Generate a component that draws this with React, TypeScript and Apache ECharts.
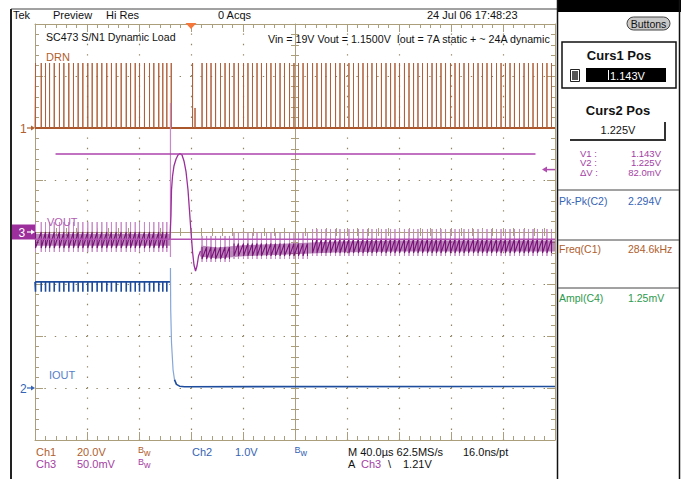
import React, { useEffect, useRef } from "react";
import * as echarts from "echarts";

// ---------- scales ----------
const timeMin = -120; // µs, M 40.0 µs/div, 10 div
const timeMax = 280;
const timeDiv = 40;
const ch1Range = [-120, 40]; // DRN, 20.0 V/div
const ch2Range = [-1, 7]; // IOUT, 1.0 V/div
const ch3Range = [0.95, 1.35]; // VOUT, 50.0 mV/div
const ch3Offset = 1.15;
const triggerTime = 0;
const triggerLevel = 1.21;
const gratDivX = [-4, -3, -2, -1, 1, 2, 3, 4];
const gratDivY = [-3, -2, -1, 1, 2, 3];

// ---------- DRN (Ch1) switching pulses ----------
const drnPulseTimes = [
  -119.6, -115.2, -111.9, -108.8, -105.2, -101.2, -97.8, -94.0, -90.4, -86.8,
  -83.2, -79.4, -76.0, -72.2, -68.6, -64.8, -61.2, -57.5, -53.7, -49.8,
  -46.5, -42.9, -39.6, -35.8, -31.9, -28.6, -24.8, -21.7, -18.6, -15.2,
  1.2,
  8.5, 12.0, 15.4, 18.9, 22.7, 26.2, 29.6, 33.1, 36.5, 40.4,
  43.8, 47.3, 50.8, 54.2, 58.1, 61.5, 65.0, 68.5, 71.9, 75.8,
  79.2, 82.7, 86.2, 89.6, 93.5, 96.9, 100.4, 103.8, 107.3, 111.2,
  114.6, 118.1, 121.5, 125.0, 128.8, 132.3, 135.8, 139.2, 142.7, 146.5,
  150.0, 153.5, 156.9, 160.4, 164.2, 167.7, 171.2, 174.6, 178.1, 181.9,
  185.4, 188.8, 192.3, 195.8, 199.6, 203.1, 206.5, 210.0, 213.5, 217.3,
  220.8, 224.2, 227.7, 231.2, 235.0, 238.5, 241.9, 245.4, 248.8, 252.7,
  256.2, 259.6, 263.1, 266.5, 270.4, 273.8, 277.3,
];
const drnPulseTop = 25; // V
const drnShortPulseTimes = [3.1];
const drnShortPulseTop = 7.7;
const drnBaseline = 0;

// ---------- VOUT (Ch3) ----------
const voutRegionStart = [-120, 7, 30, 90];
const voutRegionEnd = [-16, 30, 90, 280];
const voutSpikeHi = [1.1596, 1.1462, 1.1495, 1.1529];
const voutBandHi = [1.15, 1.1356, 1.139, 1.1433];
const voutBandMid = [1.1425, 1.1298, 1.1325, 1.1365];
const voutBandLo = [1.1346, 1.124, 1.127, 1.1298];
const voutSpikeLo = [1.1308, 1.1212, 1.124, 1.1269];
const voutEnvelopePre = [[-120, 1.1425], [-16.2, 1.1425]];
const voutEnvelopePost = [[7.3, 1.1317], [20, 1.1298], [40, 1.132], [70, 1.1335], [110, 1.1355], [160, 1.1365], [280, 1.1365]];
const voutTransient = [
  [-16.2, 1.1423], [-15.4, 1.1663], [-15.0, 1.1904], [-14.2, 1.2038], [-13.1, 1.2135],
  [-11.5, 1.2202], [-10.0, 1.224], [-8.5, 1.2255], [-6.9, 1.224], [-5.4, 1.2183],
  [-3.8, 1.2077], [-2.3, 1.1904], [-1.2, 1.1712], [0, 1.15], [1.2, 1.1308],
  [2.3, 1.1183], [3.5, 1.1125], [4.6, 1.1173], [5.8, 1.1269], [7.3, 1.1317],
];
const voutFastEdge = [[-15.8, 1.274], [-15.8, 1.126]];
const cursor1 = 1.143;
const cursor2 = 1.225;
const cursor2Span = [-104.2, 265];

// ---------- IOUT (Ch2) ----------
const ioutHigh = 2.04;
const ioutSpikeLo = 1.85;
const ioutEdge = [
  [-15.8, 2.04], [-15.8, 2.31], [-15.6, 1.5], [-15.0, 0.87], [-13.8, 0.35], [-12.7, 0.16],
];
const ioutTail = [[-12.7, 0.16], [-11.2, 0.07], [-8.8, 0.035], [-5.0, 0.025], [280, 0.03]];

// ---------- colours / fonts ----------
const TAN = "#aa9e7b";
const DOT = "#8f8462";
const BROWN = "#a44f1e";
const BROWN_P = "#b0603a";
const BROWN_T = "#b0602e";
const PURPLE = "#7a127a";
const PURPLE_L = "#c68ac6";
const PURPLE_T = "#a33ea3";
const BLUE = "#1e4c9c";
const BLUE_L = "#86a6d8";
const BLUE_T = "#3563b5";
const GREEN_T = "#2d9a4c";
const ORANGE = "#f5773a";
const FONT = "'Liberation Sans', Arial, sans-serif";

function gratX(extra: any) {
  return {
    type: "value", min: -5, max: 5, interval: 1, show: true,
    axisLabel: { show: false },
    axisLine: { show: true, onZero: false, lineStyle: { color: TAN, width: 1 } },
    axisTick: { show: true, inside: true, length: 8, lineStyle: { color: TAN } },
    minorTick: { show: true, splitNumber: 5, length: 4, lineStyle: { color: TAN } },
    splitLine: { show: false },
    ...extra,
  };
}
function gratY(extra: any) {
  return {
    type: "value", min: -4, max: 4, interval: 1, show: true,
    axisLabel: { show: false },
    axisLine: { show: true, onZero: false, lineStyle: { color: TAN, width: 1 } },
    axisTick: { show: true, inside: true, length: 8, lineStyle: { color: TAN } },
    minorTick: { show: true, splitNumber: 5, length: 4, lineStyle: { color: TAN } },
    splitLine: { show: false },
    ...extra,
  };
}

function line(name: string, data: any[], yAxisIndex: number, color: string, width: number, z = 2, opacity = 1) {
  return {
    name, type: "line", xAxisIndex: 4, yAxisIndex, data, symbol: "none", silent: true,
    z, lineStyle: { color, width, opacity }, animation: false,
  };
}

function buildOption() {
  const pulses = drnPulseTimes.map((t) => [t, drnPulseTop])
    .concat(drnShortPulseTimes.map((t) => [t, drnShortPulseTop]))
    .sort((a, b) => a[0] - b[0]);
  const drnData: any[] = [[timeMin, drnBaseline]];
  pulses.forEach(([t, top]) => drnData.push([t, drnBaseline], [t, top], [t, drnBaseline]));
  drnData.push([timeMax, drnBaseline]);

  const ioutData: any[] = [[timeMin, ioutHigh]];
  drnPulseTimes.filter((t) => t < -16).forEach((t) => ioutData.push([t, ioutHigh], [t, ioutSpikeLo], [t, ioutHigh]));
  ioutData.push([-15.8, ioutHigh]);

  const voutSeries: any[] = [];
  voutRegionStart.forEach((s, r) => {
    const ts = drnPulseTimes.filter((t) => t >= s && t <= voutRegionEnd[r]);
    const zig: any[] = [];
    const spk: any[] = [[s, voutBandMid[r]]];
    ts.forEach((t) => {
      zig.push([t, voutBandHi[r]], [t, voutBandLo[r]]);
      spk.push([t, voutBandMid[r]], [t, voutSpikeHi[r]], [t, voutSpikeLo[r]], [t, voutBandMid[r]]);
    });
    spk.push([voutRegionEnd[r], voutBandMid[r]]);
    voutSeries.push(line("voutSpikes" + r, spk, 5, PURPLE_L, 1, 5));
    voutSeries.push(line("voutZig" + r, zig, 5, PURPLE, 1.1, 6));
  });

  return {
    animation: false,
    backgroundColor: "#ffffff",
    grid: { left: 35, top: 24, width: 520, height: 416, containLabel: false },
    xAxis: [
      gratX({ position: "bottom" }),
      gratX({ position: "top" }),
      gratX({ position: "bottom", axisLine: { show: true, onZero: true, onZeroAxisIndex: 0, lineStyle: { color: TAN, width: 1 } }, axisTick: { show: true, inside: false, length: 4, lineStyle: { color: TAN } } }),
      gratX({ position: "bottom", axisLine: { show: false, onZero: true, onZeroAxisIndex: 0 }, axisTick: { show: true, inside: true, length: 4, lineStyle: { color: TAN } } }),
      { type: "value", min: timeMin, max: timeMax, interval: timeDiv, show: false, axisLine: { onZero: false } },
    ],
    yAxis: [
      gratY({ position: "left" }),
      gratY({ position: "right" }),
      gratY({ position: "left", axisLine: { show: true, onZero: true, onZeroAxisIndex: 0, lineStyle: { color: TAN, width: 1 } }, axisTick: { show: true, inside: false, length: 4, lineStyle: { color: TAN } } }),
      gratY({ position: "left", axisLine: { show: false, onZero: true, onZeroAxisIndex: 0 }, axisTick: { show: true, inside: true, length: 4, lineStyle: { color: TAN } } }),
      { type: "value", min: ch1Range[0], max: ch1Range[1], show: false, axisLine: { onZero: false } },
      { type: "value", min: ch3Range[0], max: ch3Range[1], show: false, axisLine: { onZero: false } },
      { type: "value", min: ch2Range[0], max: ch2Range[1], show: false, axisLine: { onZero: false } },
    ],
    series: [
      line("drnBase", [[timeMin, drnBaseline], [timeMax, drnBaseline]], 4, BROWN, 2, 2),
      line("drn", drnData, 4, BROWN_P, 1, 3),
      line("ioutHigh", ioutData, 6, BLUE, 1.6, 3),
      line("ioutEdge", ioutEdge, 6, BLUE_L, 1.2, 3),
      line("ioutTail", ioutTail, 6, BLUE, 1.6, 3),
      line("voutBandPre", voutEnvelopePre, 5, "#7d2a7d", 12, 4, 0.55),
      line("voutBandPost", voutEnvelopePost, 5, "#7d2a7d", 11, 4, 0.55),
      ...voutSeries,
      line("voutFast", voutFastEdge, 5, PURPLE_L, 1.2, 6),
      line("voutTransient", voutTransient, 5, "#9a2e9a", 1.3, 7),
      line("cursor1", [[timeMin, cursor1], [timeMax, cursor1]], 5, "#b352b3", 1.4, 8),
      line("cursor2", [[cursor2Span[0], cursor2], [cursor2Span[1], cursor2]], 5, "#ad45ad", 1.6, 8),
    ],
  };
}

function txt(text: string, x: number, y: number, fill: string, size = 11, extra: any = {}) {
  return {
    type: "text", x, y, z: 50, silent: true,
    style: {
      text, fill, font: `${extra.bold ? "bold " : ""}${size}px ${FONT}`,
      align: extra.align || "left", textAlign: extra.align || "left",
      verticalAlign: "middle", textVerticalAlign: "middle",
    },
  };
}
function ln(x1: number, y1: number, x2: number, y2: number, stroke: string, lineWidth = 1, z = 40) {
  return { type: "line", z, silent: true, shape: { x1, y1, x2, y2 }, style: { stroke, lineWidth } };
}
function dotted(x1: number, y1: number, x2: number, y2: number) {
  return { type: "line", z: 0, silent: true, shape: { x1, y1, x2, y2 }, style: { stroke: DOT, lineWidth: 1.2, lineDash: [1.4, 9.0], lineDashOffset: 0.7 } };
}
function rect(x: number, y: number, width: number, height: number, style: any, r = 0) {
  return { type: "rect", z: 30, silent: true, shape: { x, y, width, height, r }, style };
}
function arrowRight(x1: number, x2: number, y: number, color: string) {
  return [
    ln(x1, y, x2 - 3, y, color, 1.2),
    { type: "polygon", z: 45, silent: true, shape: { points: [[x2, y], [x2 - 4, y - 2.5], [x2 - 4, y + 2.5]] }, style: { fill: color } },
  ];
}

function buildGraphics(chart: any) {
  const yCh1 = chart.convertToPixel({ yAxisIndex: 4 }, 0);
  const yCh2 = chart.convertToPixel({ yAxisIndex: 6 }, 0);
  const yCh3 = chart.convertToPixel({ yAxisIndex: 5 }, ch3Offset);
  const yTrig = chart.convertToPixel({ yAxisIndex: 5 }, triggerLevel);
  const xTrig = chart.convertToPixel({ xAxisIndex: 4 }, triggerTime);
  const xRight = chart.convertToPixel({ xAxisIndex: 4 }, timeMax);
  const xLeft = chart.convertToPixel({ xAxisIndex: 0 }, -5);
  const yTop = chart.convertToPixel({ yAxisIndex: 0 }, 4);
  const yBottom = chart.convertToPixel({ yAxisIndex: 0 }, -4);

  const g: any[] = [];
  // dotted graticule
  gratDivX.forEach((d) => {
    const x = Math.round(chart.convertToPixel({ xAxisIndex: 0 }, d)) + 0.5;
    g.push(dotted(x, yTop, x, yBottom));
  });
  gratDivY.forEach((d) => {
    const y = Math.round(chart.convertToPixel({ yAxisIndex: 0 }, d)) + 0.5;
    g.push(dotted(xLeft, y, xRight, y));
  });

  g.push(ln(11, 9, 557, 9, "#444", 1));
  g.push(ln(11, 9, 11, 479, "#222", 2));
  g.push(rect(557, 0, 124, 12, { fill: "#000" }));
  g.push(ln(557.5, 0, 557.5, 479, "#111", 1.5));
  g.push(ln(679.5, 0, 679.5, 479, "#111", 1.5));
  g.push(rect(627, 17, 43, 13, { fill: "#c8c8c8", stroke: "#444", lineWidth: 1 }, 6.5));
  g.push(txt("Buttons", 648.5, 23.5, "#111", 10.5, { align: "center" }));
  g.push(rect(562, 42, 114, 46, { fill: "none", stroke: "#111", lineWidth: 1.5 }));
  g.push(txt("Curs1 Pos", 619, 55, "#111", 13, { bold: true, align: "center" }));
  g.push(rect(570.5, 69.5, 9, 12, { fill: "#fff", stroke: "#222", lineWidth: 1 }));
  g.push(rect(572, 71, 6, 9, { fill: "#555" }));
  g.push(rect(586, 68, 80, 14, { fill: "#000" }));
  g.push(ln(608.5, 70, 608.5, 80, "#fff", 1));
  g.push(txt("1.143V", 610, 75.5, "#fff", 11));
  g.push(txt("Curs2 Pos", 618, 110, "#111", 13, { bold: true, align: "center" }));
  g.push(ln(570, 140, 666, 140, "#333", 2));
  g.push(ln(665, 122, 665, 140, "#333", 2));
  g.push(txt("1.225V", 618, 130, "#111", 11, { align: "center" }));
  g.push(txt("V1 :", 580, 153, PURPLE_T, 9.5));
  g.push(txt("V2 :", 580, 162.5, PURPLE_T, 9.5));
  g.push(txt("ΔV :", 580, 172, PURPLE_T, 9.5));
  g.push(txt("1.143V", 661, 153, PURPLE_T, 9.5, { align: "right" }));
  g.push(txt("1.225V", 661, 162.5, PURPLE_T, 9.5, { align: "right" }));
  g.push(txt("82.0mV", 661, 172, PURPLE_T, 9.5, { align: "right" }));
  g.push(ln(558, 190, 679, 190, "#444", 1));
  g.push(ln(558, 240, 679, 240, "#444", 1));
  g.push(ln(558, 288, 679, 288, "#444", 1));
  g.push(txt("Pk-Pk(C2)", 559, 201, BLUE_T, 10.5));
  g.push(txt("2.294V", 628, 201, BLUE_T, 10.5));
  g.push(txt("Freq(C1)", 559, 249, BROWN_T, 10.5));
  g.push(txt("284.6kHz", 628, 249, BROWN_T, 10.5));
  g.push(txt("Ampl(C4)", 559, 298, GREEN_T, 10.5));
  g.push(txt("1.25mV", 628, 298, GREEN_T, 10.5));

  g.push(txt("Tek", 13, 15, "#111", 11));
  g.push(txt("Preview", 53, 15, "#111", 11));
  g.push(txt("Hi Res", 106, 15, "#111", 11));
  g.push(txt("0 Acqs", 218, 15, "#111", 11));
  g.push(txt("24 Jul 06 17:48:23", 427, 15, "#111", 11));

  g.push(txt("SC473 S/N1 Dynamic Load", 46, 37, "#111", 10.6));
  g.push(txt("Vin = 19V Vout = 1.1500V  Iout = 7A static + ~ 24A dynamic", 268, 39, "#111", 10.7));
  g.push(txt("DRN", 46, 57, BROWN_T, 11));
  g.push(txt("VOUT", 47, 222, "#b060b0", 11));
  g.push(txt("IOUT", 49, 375, "#5580c8", 11));

  g.push(txt("Ch1", 36, 452, BROWN_T, 11));
  g.push(txt("20.0V", 77, 452, BROWN_T, 11));
  g.push(txt("B", 138, 449.5, BROWN_T, 9));
  g.push(txt("w", 144, 452.5, BROWN_T, 9));
  g.push(txt("Ch2", 192, 452, BLUE_T, 11));
  g.push(txt("1.0V", 235, 452, BLUE_T, 11));
  g.push(txt("B", 294.5, 449.5, BLUE_T, 9));
  g.push(txt("w", 300.5, 452.5, BLUE_T, 9));
  g.push(txt("Ch3", 36, 464, PURPLE_T, 11));
  g.push(txt("50.0mV", 77, 464, PURPLE_T, 11));
  g.push(txt("B", 138, 461.5, PURPLE_T, 9));
  g.push(txt("w", 144, 464.5, PURPLE_T, 9));
  g.push(txt("M 40.0µs 62.5MS/s", 348, 452, "#111", 11));
  g.push(txt("16.0ns/pt", 463, 452, "#111", 11));
  g.push(txt("A", 348, 464, "#111", 11));
  g.push(txt("Ch3", 361, 464, PURPLE_T, 11));
  g.push(txt("\\", 388, 464, "#111", 11));
  g.push(txt("1.21V", 403, 464, "#111", 11));

  g.push(txt("1", 20, yCh1 + 1, BROWN_T, 12));
  g.push(...arrowRight(27, 35, yCh1, BROWN_T));
  g.push(rect(12, yCh3 - 7.5, 23, 15, { fill: "#9c2f9c" }));
  g.push(txt("3", 18.5, yCh3 + 0.5, "#fff", 12));
  g.push(...arrowRight(27, 35, yCh3, "#fff"));
  g.push(txt("2", 20, yCh2 + 1, BLUE_T, 12));
  g.push(...arrowRight(27, 35, yCh2, BLUE_T));

  g.push({ type: "polygon", z: 45, silent: true, shape: { points: [[xTrig - 5.5, yTop - 1], [xTrig + 5.5, yTop - 1], [xTrig, yTop + 5]] }, style: { fill: ORANGE } });
  g.push(ln(xRight - 9, yTrig, xRight, yTrig, "#b04cb0", 1.5));
  g.push({ type: "polygon", z: 45, silent: true, shape: { points: [[xRight - 13, yTrig], [xRight - 8, yTrig - 3], [xRight - 8, yTrig + 3]] }, style: { fill: "#b04cb0" } });
  return g;
}

export default function App() {
  const ref = useRef<HTMLDivElement>(null);
  useEffect(() => {
    document.body.style.margin = "0";
    const chart = echarts.init(ref.current as HTMLDivElement, undefined, { renderer: "svg" });
    chart.setOption(buildOption() as any);
    chart.setOption({ graphic: buildGraphics(chart) } as any);
    return () => chart.dispose();
  }, []);
  return <div ref={ref} style={{ width: 681, height: 479, background: "#fff" }} />;
}
